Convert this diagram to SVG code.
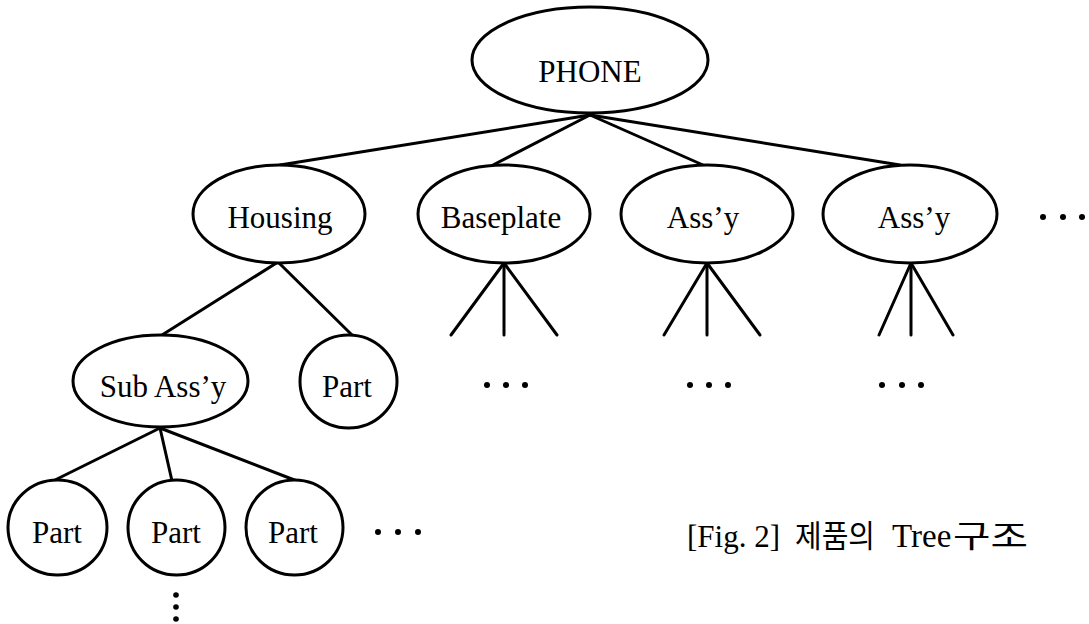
<svg xmlns="http://www.w3.org/2000/svg" width="1089" height="624" viewBox="0 0 1089 624">
<style>
.n{fill:#fff;stroke:#000;stroke-width:3}
.c{stroke:#000;stroke-width:3;fill:none;stroke-linecap:round}
.t{font-family:"Liberation Serif","Times New Roman",serif;font-size:31px;fill:#000;text-anchor:middle}
.cap{font-family:"Liberation Serif","Noto Sans CJK KR",serif;font-size:31px;fill:#000}
.d{fill:#000}
</style>
<rect width="1089" height="624" fill="#fff"/>
<g id="connectors">
<line class="c" x1="590" y1="115" x2="280" y2="165"/>
<line class="c" x1="590" y1="115" x2="493" y2="165"/>
<line class="c" x1="590" y1="115" x2="703" y2="165"/>
<line class="c" x1="590" y1="115" x2="900" y2="165"/>
<line class="c" x1="278" y1="262" x2="162" y2="335"/>
<line class="c" x1="278" y1="262" x2="352" y2="335"/>
<line class="c" x1="160" y1="428" x2="53" y2="481"/>
<line class="c" x1="160" y1="428" x2="172" y2="481"/>
<line class="c" x1="160" y1="428" x2="297" y2="481"/>
<line class="c" x1="504" y1="263" x2="451" y2="335"/>
<line class="c" x1="504" y1="263" x2="504" y2="335"/>
<line class="c" x1="504" y1="263" x2="557" y2="335"/>
<line class="c" x1="707" y1="263" x2="664" y2="335"/>
<line class="c" x1="707" y1="263" x2="707" y2="335"/>
<line class="c" x1="707" y1="263" x2="760" y2="335"/>
<line class="c" x1="911" y1="263" x2="879" y2="335"/>
<line class="c" x1="911" y1="263" x2="911" y2="335"/>
<line class="c" x1="911" y1="263" x2="953" y2="335"/>
</g>
<g id="phone"><ellipse class="n" cx="590" cy="60" rx="118" ry="53"/><text class="t" x="590" y="82">PHONE</text></g>
<g id="housing"><ellipse class="n" cx="279" cy="214" rx="86" ry="49"/><text class="t" x="280" y="228">Housing</text></g>
<g id="baseplate"><ellipse class="n" cx="504" cy="214" rx="86" ry="49"/><text class="t" x="501" y="228">Baseplate</text></g>
<g id="assy1"><ellipse class="n" cx="707" cy="214" rx="86" ry="49"/><text class="t" x="703" y="228">Ass’y</text></g>
<g id="assy2"><ellipse class="n" cx="910" cy="214" rx="87" ry="49"/><text class="t" x="914" y="228">Ass’y</text></g>
<g id="subassy"><ellipse class="n" cx="160.5" cy="381" rx="87.5" ry="46"/><text class="t" x="163" y="397">Sub Ass’y</text></g>
<g id="part-h"><ellipse class="n" cx="348.5" cy="381.5" rx="48.5" ry="46.5"/><text class="t" x="347" y="397">Part</text></g>
<g id="part1"><ellipse class="n" cx="57.5" cy="527.5" rx="49.5" ry="47.5"/><text class="t" x="57" y="543">Part</text></g>
<g id="part2"><ellipse class="n" cx="176.5" cy="527.5" rx="48.5" ry="47.5"/><text class="t" x="176" y="543">Part</text></g>
<g id="part3"><ellipse class="n" cx="294.5" cy="527.5" rx="48.5" ry="47.5"/><text class="t" x="293" y="543">Part</text></g>
<g id="more">
<circle class="d" cx="1043" cy="217" r="3"/><circle class="d" cx="1063" cy="217" r="3"/><circle class="d" cx="1082" cy="217" r="3"/>
<circle class="d" cx="487" cy="385" r="3"/><circle class="d" cx="506" cy="385" r="3"/><circle class="d" cx="525" cy="385" r="3"/>
<circle class="d" cx="690" cy="385" r="3"/><circle class="d" cx="709" cy="385" r="3"/><circle class="d" cx="728" cy="385" r="3"/>
<circle class="d" cx="882" cy="385" r="3"/><circle class="d" cx="902" cy="385" r="3"/><circle class="d" cx="921" cy="385" r="3"/>
<circle class="d" cx="378" cy="532" r="3"/><circle class="d" cx="398" cy="532" r="3"/><circle class="d" cx="418" cy="532" r="3"/>
<circle class="d" cx="176" cy="595" r="2.8"/><circle class="d" cx="176" cy="607" r="2.8"/><circle class="d" cx="176" cy="619" r="2.8"/>
</g>
<text id="caption" class="cap" y="547"><tspan x="687">[Fig. 2]</tspan><tspan x="795" textLength="80" lengthAdjust="spacingAndGlyphs">제품의</tspan><tspan x="892" font-size="33">Tree</tspan><tspan x="953" textLength="75" lengthAdjust="spacingAndGlyphs">구조</tspan></text>
</svg>
